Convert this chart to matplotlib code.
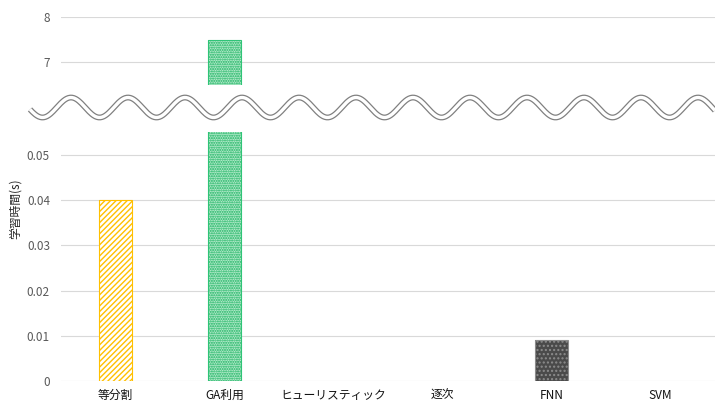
import numpy as np
import matplotlib
matplotlib.use("Agg")
import matplotlib.pyplot as plt
from matplotlib.lines import Line2D

plt.rcParams['font.family'] = ['Noto Sans CJK JP', 'DejaVu Sans']
plt.rcParams['hatch.linewidth'] = 1.0

categories = ['等分割', 'GA利用', 'ヒューリスティック', '逐次', 'FNN', 'SVM']
values = [0.04, 7.5, 0.0, 0.0, 0.009, 0.0]
upper_ticks = [7, 8]
lower_ticks = [0, 0.01, 0.02, 0.03, 0.04, 0.05]
lower_tick_labels = ['0', '0.01', '0.02', '0.03', '0.04', '0.05']

styles = [
    dict(face='white', hatch='//////', hatch_color='#FFC000', edge='#FFC000'),
    dict(face='#b5ebcc', hatch='.......', hatch_color='#14b05c', edge='#2fc477'),
    dict(face='white', hatch=None, hatch_color='white', edge='white'),
    dict(face='white', hatch=None, hatch_color='white', edge='white'),
    dict(face='#4a4a4a', hatch='....', hatch_color='#8c8c8c', edge='#8c8c8c'),
    dict(face='white', hatch=None, hatch_color='white', edge='white'),
]

W, H = 715, 405
fig = plt.figure(figsize=(W / 100, H / 100), dpi=100)

left = 61 / W
ax_top = fig.add_axes([left, 1 - 84.5 / H, 1 - left, (84.5 - 17) / H])
ax_bot = fig.add_axes([left, 1 - 381 / H, 1 - left, (381 - 132.4) / H])

x = np.arange(len(categories))
width = 0.31

for ax in (ax_top, ax_bot):
    for xi, v, st in zip(x, values, styles):
        if v <= 0:
            continue
        ax.bar(xi, v, width, color=st['face'], edgecolor='none', linewidth=0, zorder=2)
        if st['hatch']:
            ax.bar(xi, v, width, color='none', edgecolor=st['hatch_color'],
                   hatch=st['hatch'], linewidth=0, zorder=3)
        ax.bar(xi, v, width, color='none', edgecolor=st['edge'], linewidth=0.8, zorder=4)
    ax.set_xlim(-0.5, len(categories) - 0.5)
    for s in ax.spines.values():
        s.set_visible(False)
    ax.grid(axis='y', color='#d9d9d9', linewidth=0.8, zorder=0)
    ax.set_axisbelow(True)
    ax.tick_params(axis='both', length=0, labelsize=8.5, labelcolor='#595959', pad=8)

ax_top.set_ylim(6.5, 8)
ax_top.set_yticks(upper_ticks)
ax_top.set_xticks([])

ax_bot.set_ylim(0, 0.055)
ax_bot.set_yticks(lower_ticks)
ax_bot.set_yticklabels(lower_tick_labels)
ax_bot.set_xticks(x)
ax_bot.set_xticklabels(categories, fontsize=8.5, color='#111111')
ax_bot.tick_params(axis='x', pad=6)

fig.text(15 / W, 1 - 209 / H, '学習時間(s)', rotation=90, ha='center', va='center',
         fontsize=8.5, color='#262626')

# axis break marker: double wavy line across the plot
px = np.linspace(30, 715, 800)
py = 107.5 - 10 * np.cos(2 * np.pi * (px - 71) / 57)
fx, fy = px / W, 1 - py / H
fig.add_artist(Line2D(fx, fy, color='#808080', linewidth=4.2, transform=fig.transFigure,
                      solid_capstyle='butt'))
fig.add_artist(Line2D(fx, fy, color='white', linewidth=2.4, transform=fig.transFigure,
                      solid_capstyle='butt'))

fig.savefig('out.png', dpi=100)
